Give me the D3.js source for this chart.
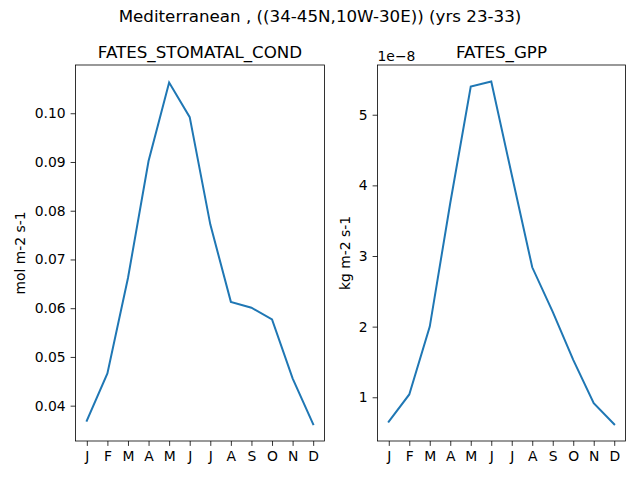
<!DOCTYPE html>
<html>
<head>
<meta charset="utf-8">
<script src="https://cdn.jsdelivr.net/npm/d3@7"></script>
<style>
  body { margin: 0; background: #fff; }
  text { font-family: "DejaVu Sans", sans-serif; fill: #000; }
</style>
</head>
<body>
<svg></svg>
<script>
const svg = d3.select('svg')
    .attr('width', 640)
    .attr('height', 480);

// month labels on the x axis
const months = ['J', 'F', 'M', 'A', 'M', 'J', 'J', 'A', 'S', 'O', 'N', 'D'];
// stomatal conductance, mol m-2 s-1
const stomatalCond = [0.0369, 0.0466, 0.0662, 0.0902, 0.1063, 0.0992, 0.0772, 0.0613, 0.0601, 0.0577, 0.0456, 0.0362];
// gpp, in units of 1e-8 kg m-2 s-1
const gpp = [0.654, 1.04, 2.0, 3.75, 5.40, 5.47, 4.15, 2.84, 2.21, 1.53, 0.915, 0.617];
const condTicks = [0.04, 0.05, 0.06, 0.07, 0.08, 0.09, 0.10];
const gppTicks = [1, 2, 3, 4, 5];

const blue = '#1f77b4',
    plotTop = 65,
    plotBottom = 441,
    tickLen = 4.9;

svg.append('text')
    .attr('x', 320).attr('y', 22)
    .attr('text-anchor', 'middle')
    .style('font-size', '16.7px')
    .text('Mediterranean , ((34-45N,10W-30E)) (yrs 23-33)');

function drawPanel(left, right, values, domain, ticks, fmt, title, ylabel, ylabelX, offsetText) {
    const x = d3.scaleLinear().domain([-0.55, 11.55]).range([left, right]);
    const y = d3.scaleLinear().domain(domain).range([plotBottom, plotTop]);
    const g = svg.append('g');

    // x axis
    const xa = g.append('g')
        .attr('transform', `translate(0,${plotBottom})`)
        .call(d3.axisBottom(x).tickValues(d3.range(12)).tickFormat(i => months[i]).tickSize(tickLen).tickPadding(4.9));
    xa.select('.domain').remove();
    xa.selectAll('line').attr('stroke', '#000').attr('stroke-width', 0.8);
    xa.selectAll('text').style('font-size', '13.9px').attr('fill', '#000');

    // y axis
    const ya = g.append('g')
        .attr('transform', `translate(${left},0)`)
        .call(d3.axisLeft(y).tickValues(ticks).tickFormat(fmt).tickSize(tickLen).tickPadding(4.9));
    ya.select('.domain').remove();
    ya.selectAll('line').attr('stroke', '#000').attr('stroke-width', 0.8);
    ya.selectAll('text').style('font-size', '13.9px').attr('fill', '#000');

    // the line
    g.append('path')
        .datum(values)
        .attr('fill', 'none')
        .attr('stroke', blue)
        .attr('stroke-width', 2)
        .attr('stroke-linecap', 'square')
        .attr('d', d3.line().x((d, i) => x(i)).y(d => y(d)));

    // frame
    g.append('rect')
        .attr('x', left).attr('y', plotTop)
        .attr('width', right - left).attr('height', plotBottom - plotTop)
        .attr('fill', 'none').attr('stroke', '#000').attr('stroke-width', 0.8);

    g.append('text')
        .attr('x', (left + right) / 2).attr('y', plotTop - 7)
        .attr('text-anchor', 'middle')
        .style('font-size', '16.7px')
        .text(title);

    g.append('text')
        .attr('transform', `translate(${ylabelX},${(plotTop + plotBottom) / 2}) rotate(-90)`)
        .attr('text-anchor', 'middle')
        .style('font-size', '13.9px')
        .text(ylabel);

    if (offsetText) {
        g.append('text')
            .attr('x', left).attr('y', plotTop - 4)
            .style('font-size', '13.9px')
            .text(offsetText);
    }
}

drawPanel(75.5, 324.5, stomatalCond, [0.03275, 0.1099], condTicks, d3.format('.2f'),
    'FATES_STOMATAL_COND', 'mol m-2 s-1', 25, null);
drawPanel(377.5, 625.5, gpp, [0.381, 5.704], gppTicks, d3.format('d'),
    'FATES_GPP', 'kg m-2 s-1', 350, '1e\u22128');
</script>
</body>
</html>
